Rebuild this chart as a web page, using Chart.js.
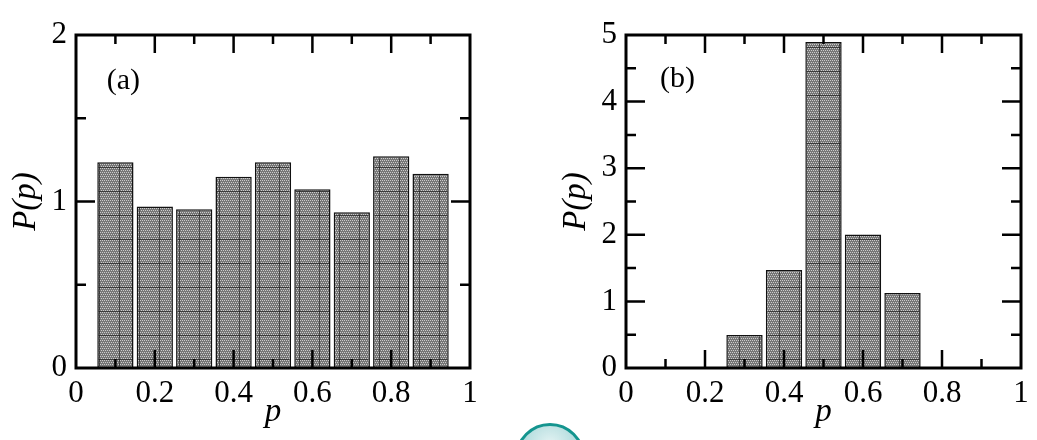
<!DOCTYPE html>
<html>
<head>
<meta charset="utf-8">
<script src="https://cdn.jsdelivr.net/npm/chart.js@4"></script>
<style>
  html, body { margin: 0; padding: 0; background: #fff; }
  body { width: 1037px; height: 440px; position: relative; overflow: hidden; }
  .panel { position: absolute; top: 0; height: 440px; }
  #wrapA { left: 0; width: 520px; }
  #wrapB { left: 520px; width: 517px; }
  .logo {
    position: absolute; left: 515px; top: 423px; width: 64px; height: 64px;
    border-radius: 50%; border: 3px solid #14958f;
    background: radial-gradient(circle at 50% 30%, #e6f4f4, #7cc3c6);
  }
</style>
</head>
<body>
<div class="panel" id="wrapA"><canvas id="chartA"></canvas></div>
<div class="panel" id="wrapB"><canvas id="chartB"></canvas></div>
<div class="logo"></div>
<script>
// histogram (a): bin centres and heights
const binsA = [0.1, 0.2, 0.3, 0.4, 0.5, 0.6, 0.7, 0.8, 0.9];
const valuesA = [1.236, 0.97, 0.954, 1.148, 1.236, 1.074, 0.936, 1.272, 1.166];

// histogram (b)
const binsB = [0.3, 0.4, 0.5, 0.6, 0.7];
const valuesB = [0.495, 1.47, 4.895, 2.005, 1.125];

// axis labels
const xTickLabels = ['0', '0.2', '0.4', '0.6', '0.8', '1'];

// tick marks drawn inside the frame
const xMajorTicks = [0.2, 0.4, 0.6, 0.8];
const xMinorTicks = [0.1, 0.3, 0.5, 0.7, 0.9];
const yMajorTicksA = [1];
const yMinorTicksA = [0.5, 1.5];
const yMajorTicksB = [1, 2, 3, 4];
const yMinorTicksB = [0.5, 1.5, 2.5, 3.5, 4.5];

const serif = "'Liberation Serif', 'Times New Roman', serif";
Chart.defaults.font.family = serif;
Chart.defaults.color = '#000';

// dotted grey fill like the printed histogram
function barPattern() {
  const c = document.createElement('canvas');
  c.width = 20; c.height = 24;
  const g = c.getContext('2d');
  g.fillStyle = '#767676';
  g.fillRect(0, 0, 20, 24);
  g.fillStyle = '#cbcbcb';
  for (let i = 0; i < 20; i += 2) {
    for (let j = 0; j < 24; j += 2) g.fillRect(i + (j % 4 ? 1 : 0), j, 1, 1);
  }
  g.fillStyle = 'rgba(20,20,20,0.6)';
  g.fillRect(0, 23, 20, 1);
  g.fillRect(19, 0, 1, 24);
  return g.createPattern(c, 'repeat');
}

const frameTicks = {
  id: 'frameTicks',
  afterDatasetsDraw(chart, args, opts) {
    const {ctx, chartArea: a} = chart;
    const x = chart.scales.x, y = chart.scales.y;
    ctx.save();
    ctx.strokeStyle = '#000';
    ctx.lineWidth = 2.5;
    ctx.beginPath();
    const xt = (list, len) => list.forEach(v => {
      const px = x.getPixelForValue(v);
      ctx.moveTo(px, a.bottom); ctx.lineTo(px, a.bottom - len);
      ctx.moveTo(px, a.top); ctx.lineTo(px, a.top + len);
    });
    const yt = (list, len) => list.forEach(v => {
      const py = y.getPixelForValue(v);
      ctx.moveTo(a.left, py); ctx.lineTo(a.left + len, py);
      ctx.moveTo(a.right, py); ctx.lineTo(a.right - len, py);
    });
    xt(xMajorTicks, 18);
    xt(xMinorTicks, 9);
    yt(opts.yMajor, 19);
    yt(opts.yMinor, 10);
    ctx.stroke();
    ctx.lineWidth = 3;
    ctx.strokeRect(a.left, a.top, a.right - a.left, a.bottom - a.top);
    ctx.font = '30px ' + serif;
    ctx.fillStyle = '#000';
    ctx.textBaseline = 'middle';
    ctx.fillText(opts.label, x.getPixelForValue(opts.labelAt[0]), y.getPixelForValue(opts.labelAt[1]));
    ctx.restore();
  }
};

function makeChart(id, bins, values, yMax, yMajor, yMinor, label, labelAt, padRight, yWidth, titlePad) {
  return new Chart(document.getElementById(id), {
    type: 'bar',
    data: {
      datasets: [{
        data: bins.map((b, i) => ({x: b, y: values[i]})),
        backgroundColor: barPattern(),
        borderColor: '#111',
        borderWidth: 1.5,
        borderSkipped: false,
        barPercentage: 0.92,
        categoryPercentage: 1
      }]
    },
    options: {
      responsive: true,
      maintainAspectRatio: false,
      animation: false,
      layout: { padding: { top: 35, right: padRight, left: 0, bottom: 0 } },
      plugins: {
        legend: { display: false },
        tooltip: { enabled: false },
        frameTicks: { yMajor: yMajor, yMinor: yMinor, label: label, labelAt: labelAt }
      },
      scales: {
        x: {
          type: 'linear',
          offset: false,
          min: 0, max: 1,
          grid: { display: false, drawTicks: false },
          border: { display: false },
          ticks: {
            stepSize: 0.2, padding: 7, font: { size: 31 },
            callback: (v, i) => xTickLabels[i]
          },
          title: { display: true, text: 'p', font: { size: 33, style: 'italic' }, padding: { top: 0, bottom: 8 } },
          afterFit(s) { s.height = 72; }
        },
        y: {
          min: 0, max: yMax,
          grid: { display: false, drawTicks: false },
          border: { display: false },
          ticks: { stepSize: 1, padding: 9, font: { size: 31 } },
          title: { display: true, text: 'P(p)', font: { size: 33, style: 'italic' }, padding: { top: titlePad, bottom: 0 } },
          afterFit(s) { s.width = yWidth; }
        }
      }
    },
    plugins: [frameTicks]
  });
}

makeChart('chartA', binsA, valuesA, 2, yMajorTicksA, yMinorTicksA, '(a)', [0.078, 1.72], 50, 76, 7);
makeChart('chartB', binsB, valuesB, 5, yMajorTicksB, yMinorTicksB, '(b)', [0.086, 4.33], 16, 106, 37);
</script>
</body>
</html>
